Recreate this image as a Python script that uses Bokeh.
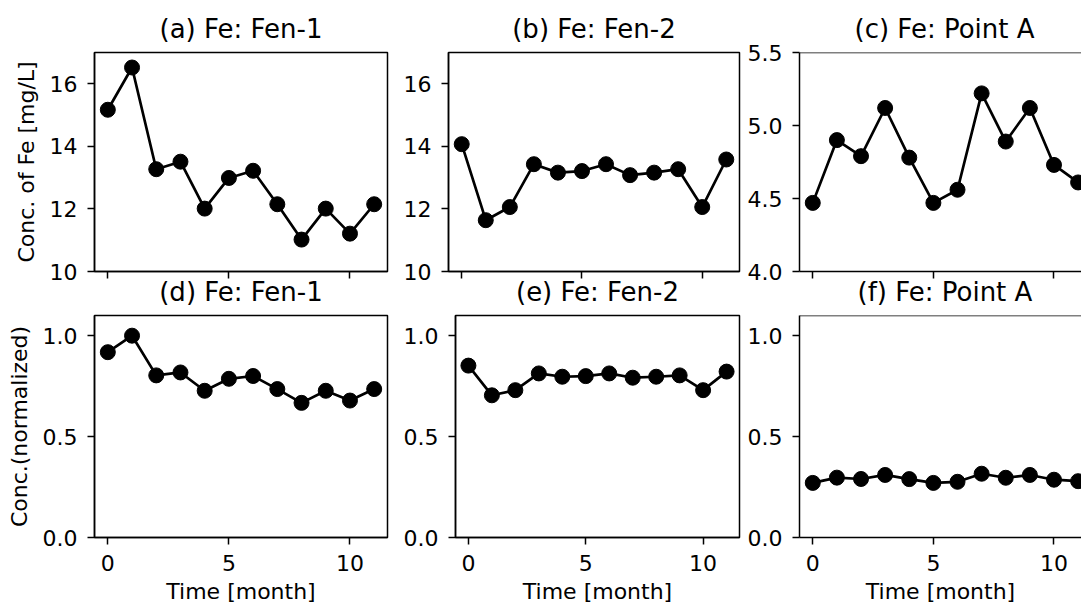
from bokeh.plotting import figure
from bokeh.layouts import column, row
from bokeh.models import FixedTicker, Range1d, Span
from bokeh.embed import file_html
from bokeh.resources import INLINE

# ---- data ----
months = [0, 1, 2, 3, 4, 5, 6, 7, 8, 9, 10, 11]
fen1 = [15.17, 16.52, 13.27, 13.51, 12.01, 12.99, 13.22, 12.15, 11.02, 12.01, 11.21, 12.15]
fen2 = [14.07, 11.64, 12.06, 13.43, 13.16, 13.21, 13.43, 13.08, 13.16, 13.27, 12.06, 13.58]
point_a = [4.47, 4.90, 4.79, 5.12, 4.78, 4.47, 4.56, 5.22, 4.89, 5.12, 4.73, 4.61]

# normalised by the overall maximum concentration
norm_base = max(fen1 + fen2 + point_a)
fen1_n = [v / norm_base for v in fen1]
fen2_n = [v / norm_base for v in fen2]
point_a_n = [v / norm_base for v in point_a]

titles_top = ["(a) Fe: Fen-1", "(b) Fe: Fen-2", "(c) Fe: Point A"]
titles_bottom = ["(d) Fe: Fen-1", "(e) Fe: Fen-2", "(f) Fe: Point A"]
x_ticks = [0, 5, 10]
y_ticks_conc = [10, 12, 14, 16]
y_labels_conc = ["10", "12", "14", "16"]
y_ticks_point = [4.0, 4.5, 5.0, 5.5]
y_labels_point = ["4.0", "4.5", "5.0", "5.5"]
y_ticks_norm = [0.0, 0.5, 1.0]
y_labels_norm = ["0.0", "0.5", "1.0"]
ylabel_top = "Conc. of Fe [mg/L]"
ylabel_bottom = "Conc.(normalized)"
xlabel = "Time [month]"

FONT = "DejaVu Sans"


def panel(title, ys, yr, yticks, ylabels, width, height, borders, bottom_row,
          ylabel=None, cut_right=False, title_offset=0):
    bl, br, bt, bb = borders
    xr = Range1d(-0.55, 11.14) if cut_right else Range1d(-0.55, 11.55)
    p = figure(width=width, height=height, x_range=xr, y_range=Range1d(*yr),
               output_backend="svg", toolbar_location=None, tools="",
               min_border_left=bl, min_border_right=br,
               min_border_top=bt, min_border_bottom=bb)
    p.background_fill_color = "white"
    p.border_fill_color = None if bottom_row else "white"
    p.grid.visible = False

    p.title.text = title
    p.title.text_font = FONT
    p.title.text_font_size = "26px"
    p.title.text_font_style = "normal"
    p.title.text_color = "black"
    p.title.standoff = 18
    if cut_right:
        p.title.align = "left"
        p.title.offset = title_offset
    else:
        p.title.align = "center"

    if cut_right:
        p.outline_line_color = None
        p.add_layout(Span(location=yr[1], dimension="width",
                          line_color="black", line_width=1.5))
    else:
        p.outline_line_color = "black"
        p.outline_line_width = 1.5
        p.outline_line_alpha = 1.0

    p.line(months, ys, line_color="black", line_width=2.7)
    p.scatter(months, ys, size=15, fill_color="black", line_color="black")

    for ax in (p.xaxis[0], p.yaxis[0]):
        ax.axis_line_color = "black"
        ax.axis_line_width = 1.5
        ax.major_tick_line_color = "black"
        ax.major_tick_line_width = 1.5
        ax.major_tick_out = 7
        ax.major_tick_in = 0
        ax.minor_tick_line_color = None
        ax.major_label_text_font = FONT
        ax.major_label_text_font_size = "22px"
        ax.major_label_text_color = "black"
        ax.axis_label_text_font = FONT
        ax.axis_label_text_font_size = "22px"
        ax.axis_label_text_font_style = "normal"
        ax.axis_label_text_color = "black"

    p.xaxis.ticker = FixedTicker(ticks=x_ticks)
    p.yaxis.ticker = FixedTicker(ticks=yticks)
    p.yaxis.major_label_overrides = {t: s for t, s in zip(yticks, ylabels)}
    p.yaxis.major_label_standoff = 10
    if ylabel:
        p.yaxis.axis_label = ylabel
        p.yaxis.axis_label_standoff = 8
    if bottom_row:
        p.xaxis.major_label_standoff = 10
        p.xaxis.axis_label = xlabel
        p.xaxis.axis_label_standoff = 5
    else:
        # shared x axis: tick marks only, labels not drawn
        p.xaxis.major_label_text_color = None
        p.xaxis.major_label_standoff = 0
    return p


# top row: frames at y 52..271 ; bottom row frames at y 315..537
top_h, bot_h = 306, 346
top_b = (52, 35)
bot_b = (55, 69)
overlap = 306 + 55 - 315

a = panel(titles_top[0], fen1, (10, 17), y_ticks_conc, y_labels_conc, 400, top_h,
          (94, 13) + top_b, False, ylabel_top)
b = panel(titles_top[1], fen2, (10, 17), y_ticks_conc, y_labels_conc, 344, top_h,
          (47, 5) + top_b, False)
c = panel(titles_top[2], point_a, (4.0, 5.5), y_ticks_point, y_labels_point, 337, top_h,
          (54, 0) + top_b, False, cut_right=True, title_offset=55)
d = panel(titles_bottom[0], fen1_n, (0, 1.1), y_ticks_norm, y_labels_norm, 400, bot_h,
          (94, 13) + bot_b, True, ylabel_bottom)
e = panel(titles_bottom[1], fen2_n, (0, 1.1), y_ticks_norm, y_labels_norm, 344, bot_h,
          (47, 5) + bot_b, True)
f = panel(titles_bottom[2], point_a_n, (0, 1.1), y_ticks_norm, y_labels_norm, 337, bot_h,
          (54, 0) + bot_b, True, cut_right=True, title_offset=58)

top = row(a, b, c, spacing=0)
bottom = row(d, e, f, spacing=0, margin=(-overlap, 0, 0, 0))
layout = column(top, bottom, spacing=0)

open("out.html", "w").write(file_html(layout, INLINE))
